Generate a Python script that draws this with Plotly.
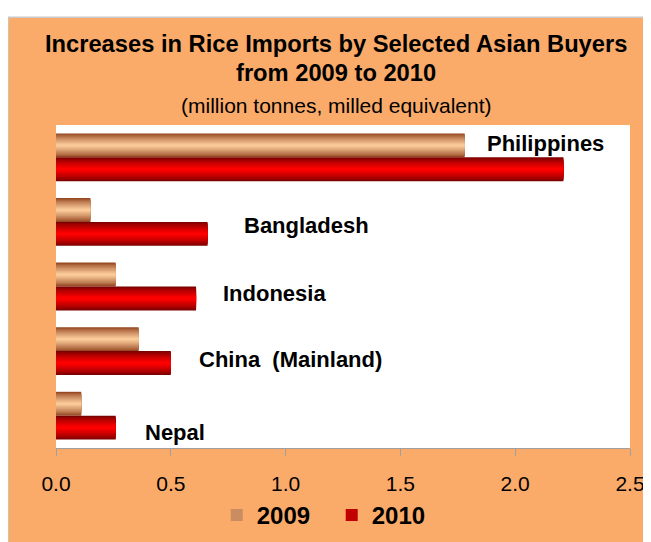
import plotly.graph_objects as go

countries = ["Philippines", "Bangladesh", "Indonesia", "China  (Mainland)", "Nepal"]
imports_2009 = [1.78, 0.15, 0.26, 0.36, 0.11]
imports_2010 = [2.21, 0.66, 0.61, 0.50, 0.26]
label_x = [1.867, 0.81, 0.72, 0.615, 0.38]
label_shift = [13.5, -4, -7, -8.5, -16.5]
tick_vals = [0.0, 0.5, 1.0, 1.5, 2.0, 2.5]

ORANGE = "#FAAB6A"
FONT = "Liberation Sans"

def mix(c1, c2, t):
    return "rgb(%d,%d,%d)" % tuple(round(a + (b - a) * t) for a, b in zip(c1, c2))

series = [
    ("2009", imports_2009, -0.185, (150, 72, 35), (250, 202, 152)),
    ("2010", imports_2010, 0.185, (125, 0, 0), (255, 0, 0)),
]
thick = 0.37
n_layers = 10

fig = go.Figure()
for name, vals, center, edge, mid in series:
    for k in range(n_layers):
        f = 1 - k / n_layers
        w = thick * f
        t = (k / (n_layers - 1)) ** 0.8
        fig.add_trace(go.Bar(
            y=countries, x=vals, orientation="h",
            width=w, offset=center - w / 2,
            marker=dict(color=mix(edge, mid, t), line=dict(width=0)),
            name=name, showlegend=(k == 4), legendgroup=name,
        ))

# page background with border, then white plot area
fig.add_shape(type="rect", xref="paper", yref="paper",
              x0=-0.0836, x1=1.1, y0=-0.35, y1=1.3333,
              fillcolor=ORANGE, line=dict(color="#C8C8C8", width=1.5), layer="below")
fig.add_shape(type="rect", xref="paper", yref="paper",
              x0=0, x1=1, y0=0, y1=1,
              fillcolor="white", line=dict(width=0), layer="below")

ann = []
for c, lx, sh in zip(countries, label_x, label_shift):
    ann.append(dict(x=lx, y=c, xref="x", yref="y", text="<b>%s</b>" % c,
                    showarrow=False, xanchor="left", yanchor="middle", yshift=sh,
                    font=dict(family=FONT, size=22, color="black")))
ann += [
    dict(x=0.488, y=1.251, xref="paper", yref="paper", showarrow=False,
         xanchor="center", yanchor="middle",
         text="<b>Increases in Rice Imports by Selected Asian Buyers</b>",
         font=dict(family=FONT, size=23.7, color="black")),
    dict(x=0.488, y=1.161, xref="paper", yref="paper", showarrow=False,
         xanchor="center", yanchor="middle",
         text="<b>from 2009 to 2010</b>",
         font=dict(family=FONT, size=23.7, color="black")),
    dict(x=0.488, y=1.061, xref="paper", yref="paper", showarrow=False,
         xanchor="center", yanchor="middle",
         text="(million tonnes, milled equivalent)",
         font=dict(family=FONT, size=21, color="black")),
]

fig.update_layout(
    width=651, height=542,
    margin=dict(l=48, r=28.5, t=117, b=95),
    paper_bgcolor="white", plot_bgcolor="white",
    barmode="overlay",
    annotations=ann,
    legend=dict(orientation="h", x=0.280, y=-0.209, xanchor="left", yanchor="middle",
                font=dict(family=FONT, size=24, color="black", weight="bold"),
                bgcolor="rgba(0,0,0,0)", itemwidth=30, entrywidth=70),
    xaxis=dict(range=[0, 2.5], tickvals=tick_vals, tickformat=".1f",
               showgrid=False, zeroline=False, showline=True, linecolor="#A0A0A0",
               ticks="outside", ticklen=7, tickcolor="#A0A0A0", ticklabelstandoff=10,
               tickfont=dict(family=FONT, size=21, color="black")),
    yaxis=dict(range=[4.5, -0.5], showticklabels=False, showgrid=False,
               zeroline=False, showline=False, ticks=""),
)
fig.write_html(
    "out.html",
    config={"displayModeBar": False},
    post_script="document.documentElement.style.overflow='hidden';document.body.style.overflow='hidden';",
)
